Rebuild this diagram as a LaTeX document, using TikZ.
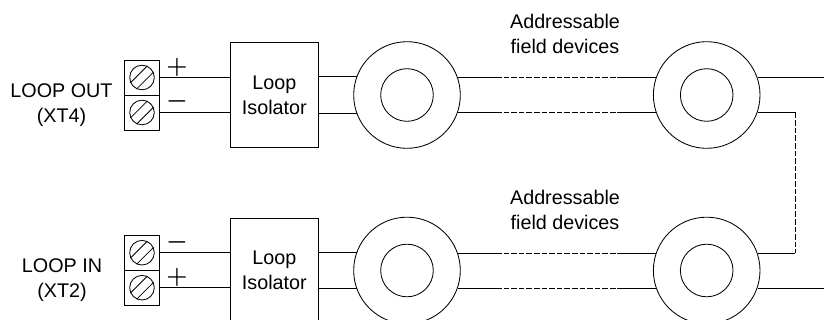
\documentclass[tikz,border=0pt]{standalone}
\usepackage{fontspec}
\setmainfont{Liberation Sans}
\usetikzlibrary{positioning}
\tikzset{
  label text/.style={font=\fontsize{14.05}{17.5}\selectfont, align=center, inner sep=0pt},
  sign text/.style={font=\fontsize{17}{17}\selectfont\boldmath, inner sep=0pt},
  terminal/.style={draw, rectangle, outer sep=0pt, minimum width=0.875cm, minimum height=0.875cm},
  screw/.style={draw, circle, inner sep=0pt, minimum size=0.615cm},
  isolator/.style={draw, rectangle, label text, minimum width=2.21cm, minimum height=2.615cm},
  ring outer/.style={draw, circle, inner sep=0pt, minimum size=2.665cm},
  ring inner/.style={draw, circle, inner sep=0pt, minimum size=1.315cm},
  link/.style={dash pattern=on 0.14cm off 0.05cm}
}
\begin{document}
\begin{tikzpicture}[x=0.025cm, y=-0.025cm, line width=0.6pt]
  \useasboundingbox (0,0) rectangle (824,320);
  \clip (0,0) rectangle (824,320);

  % Terminal blocks
  \node[terminal] (outplus) at (142,77.5) {};
  \node[terminal, below=0cm of outplus] (outminus) {};
  \node[terminal] (inminus) at (142,252.7) {};
  \node[terminal, below=0cm of inminus] (inplus) {};
  \foreach \term in {outplus,outminus,inminus,inplus} {
    \node[screw] (\term screw) at (\term.center) {};
    \draw (\term screw.65) -- (\term screw.205);
    \draw (\term screw.25) -- (\term screw.245);
  }

  % Isolators
  \node[isolator] (isotop) at (274.3,95) {Loop\\Isolator};
  \node[isolator] (isobot) at (274.3,270.3) {Loop\\Isolator};

  % Devices
  \foreach \name/\x/\y in {topa/407/95, topb/706.7/95, bota/407/270.5, botb/706.7/270.5} {
    \node[ring outer] (\name) at (\x,\y) {};
    \node[ring inner] (\name in) at (\name.center) {};
  }

  % Free ends of the dashed runs
  \coordinate (dashleft) at (496,0);
  \coordinate (dashright) at (617,0);
  \coordinate (edge) at (824,0);
  \coordinate (turn) at (795,0);

  % Wires from terminals through isolators
  \draw (outplus.east) -- (outplus.east -| isotop.west);
  \draw (outminus.east) -- (outminus.east -| isotop.west);
  \draw (inminus.east) -- (inminus.east -| isobot.west);
  \draw (inplus.east) -- (inplus.east -| isobot.west);
  \draw (topa.160.7 -| isotop.east) -- (topa.160.7);
  \draw (topa.-160.7 -| isotop.east) -- (topa.-160.7);
  \draw (bota.160.7 -| isobot.east) -- (bota.160.7);
  \draw (bota.-160.7 -| isobot.east) -- (bota.-160.7);

  % Runs between devices
  \foreach \a/\b/\ang in {topa/topb/19.3, topa/topb/-19.3, bota/botb/19.3, bota/botb/-19.3} {
    \pgfmathsetmacro{\back}{180-\ang}
    \draw (\a.\ang) -- (\a.\ang -| dashleft);
    \draw[link] (\a.\ang -| dashleft) -- (\a.\ang -| dashright);
    \draw (\a.\ang -| dashright) -- (\a.\ang -| \b.\back);
  }

  % Outgoing lines and return link
  \draw (topb.19.3) -- (topb.19.3 -| edge);
  \draw (botb.-19.3) -- (botb.-19.3 -| edge);
  \draw (topb.-19.3) -- (topb.-19.3 -| turn);
  \draw (botb.19.3) -- (botb.19.3 -| turn);
  \draw[link] (topb.-19.3 -| turn) -- (botb.19.3 -| turn);

  % Labels
  \node[label text] (labelout) at (61.5,105) {LOOP OUT\\(XT4)};
  \node[label text] (labelin) at (62,280) {LOOP IN\\(XT2)};
  \node[label text] (fieldtop) at (565,34) {Addressable\\field devices};
  \node[label text] (fieldbot) at (565,210) {Addressable\\field devices};
  \node[sign text] (signa) at (177,67) {$+$};
  \node[sign text] (signb) at (177,101.5) {$-$};
  \node[sign text] (signc) at (177,242) {$-$};
  \node[sign text] (signd) at (177,277.5) {$+$};
\end{tikzpicture}
\end{document}
